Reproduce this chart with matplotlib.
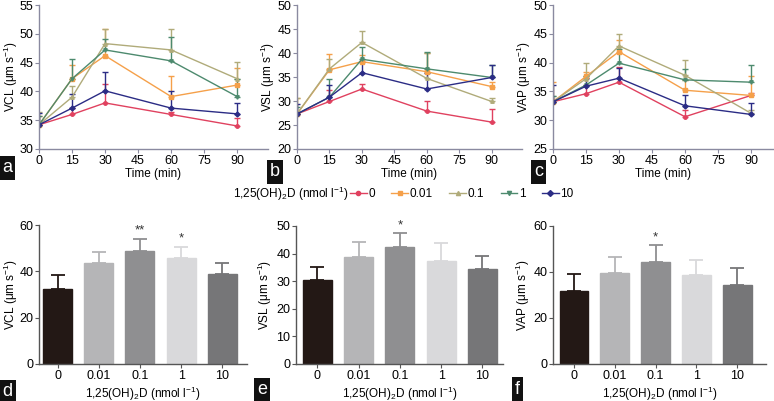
import numpy as np
import matplotlib
matplotlib.use("Agg")
import matplotlib.pyplot as plt

# ============================================================
# DATA
# ============================================================

TIME = [0, 15, 30, 60, 90]
DOSES = ["0", "0.01", "0.1", "1", "10"]

# time course means and upper error (SEM), one list per dose
VCL_MEAN = {
    "0":    [34.2, 36.0, 38.0, 36.0, 34.0],
    "0.01": [34.2, 42.2, 46.2, 39.1, 41.1],
    "0.1":  [34.2, 39.0, 48.3, 47.2, 42.2],
    "1":    [34.2, 42.2, 47.2, 45.3, 39.1],
    "10":   [34.2, 37.1, 40.1, 37.1, 36.1],
}
VCL_ERR = {
    "0":    [0.5, 1.2, 3.2, 0.5, 1.4],
    "0.01": [1.5, 2.4, 4.6, 3.6, 3.0],
    "0.1":  [2.3, 1.9, 2.5, 3.7, 2.9],
    "1":    [1.5, 3.5, 1.9, 4.1, 3.1],
    "10":   [2.0, 2.4, 3.3, 2.9, 1.8],
}

VSL_MEAN = {
    "0":    [27.3, 29.9, 32.5, 27.9, 25.6],
    "0.01": [27.3, 36.5, 38.2, 36.1, 33.0],
    "0.1":  [27.3, 36.7, 42.2, 34.7, 29.9],
    "1":    [27.3, 30.8, 38.7, 36.7, 34.9],
    "10":   [27.3, 30.8, 35.9, 32.5, 34.9],
}
VSL_ERR = {
    "0":    [0.5, 2.4, 1.0, 2.0, 2.7],
    "0.01": [3.4, 3.3, 1.4, 3.8, 1.0],
    "0.1":  [3.4, 2.0, 2.4, 5.4, 0.8],
    "1":    [1.5, 3.8, 2.6, 3.6, 2.5],
    "10":   [2.0, 2.5, 2.2, 3.4, 2.5],
}

VAP_MEAN = {
    "0":    [33.2, 34.6, 36.6, 30.6, 34.3],
    "0.01": [33.2, 37.6, 41.9, 35.2, 34.3],
    "0.1":  [33.2, 37.2, 42.9, 37.8, 31.2],
    "1":    [33.2, 36.1, 39.9, 37.0, 36.6],
    "10":   [33.2, 35.9, 37.3, 32.5, 31.0],
}
VAP_ERR = {
    "0":    [0.5, 1.5, 2.7, 1.2, 0.5],
    "0.01": [3.4, 0.7, 2.0, 1.8, 3.3],
    "0.1":  [1.0, 2.7, 2.1, 2.7, 0.5],
    "1":    [1.0, 1.5, 2.5, 1.9, 2.9],
    "10":   [2.9, 1.4, 1.8, 1.9, 1.9],
}

# bar panels (overall means)
BAR_VCL = [32.4, 43.7, 48.9, 45.6, 38.7]
BAR_VCL_ERR = [6.0, 4.8, 5.1, 5.0, 4.8]
BAR_VSL = [30.4, 38.6, 42.3, 37.4, 34.5]
BAR_VSL_ERR = [4.6, 5.6, 5.0, 6.3, 4.5]
BAR_VAP = [31.9, 39.7, 44.5, 38.6, 34.2]
BAR_VAP_ERR = [7.2, 6.8, 7.1, 6.8, 7.4]

STARS_VCL = ["", "", "**", "*", ""]
STARS_VSL = ["", "", "*", "", ""]
STARS_VAP = ["", "", "*", "", ""]

# ============================================================
# STYLE
# ============================================================

plt.rcParams["font.family"] = ["Liberation Sans", "DejaVu Sans"]
plt.rcParams["mathtext.default"] = "regular"
plt.rcParams["font.size"] = 9.5

LABEL_SIZE = 8.5
TICK_SIZE = 9

LINE_COLORS = {
    "0": "#e0415f",
    "0.01": "#f5a04a",
    "0.1": "#b0ab7a",
    "1": "#4d8a6e",
    "10": "#2b2c85",
}
MARKERS = {"0": "o", "0.01": "s", "0.1": "^", "1": "v", "10": "D"}
BAR_COLORS = ["#231815", "#b5b5b7", "#8f8f91", "#d9d9db", "#767678"]

TOP_SPINE = "#8a8aa0"
BOT_SPINE = "#555555"

UNIT = "(μm s$^{-1}$)"
DOSE_LABEL = "1,25(OH)$_2$D (nmol l$^{-1}$)"

W, H = 774, 401
fig = plt.figure(figsize=(W / 100, H / 100), dpi=100)


def px_axes(left, right, top, bottom):
    return fig.add_axes([left / W, (H - bottom) / H, (right - left) / W, (bottom - top) / H])


def style_axes(ax, color, ylab_px):
    ax.spines["top"].set_visible(False)
    ax.spines["right"].set_visible(False)
    for s in ("left", "bottom"):
        ax.spines[s].set_color(color)
        ax.spines[s].set_linewidth(1.0)
    ax.tick_params(direction="out", length=3, width=0.8, color=color,
                   labelsize=TICK_SIZE, pad=1)
    # place the y label centre a fixed number of pixels left of the axis
    width_px = ax.get_position().width * W
    ax.yaxis.set_label_coords(-ylab_px / width_px, 0.5)
    ax.yaxis.label.set_va("center")


def line_panel(ax, means, errs, ylim, name, xmax, ylab_px):
    for d in DOSES:
        m = np.array(means[d])
        e = np.array(errs[d])
        ax.errorbar(TIME, m, yerr=[np.zeros_like(e), e], color=LINE_COLORS[d],
                    marker=MARKERS[d], markersize=2.5, linewidth=1.0,
                    elinewidth=1.0, capsize=2, capthick=1.0)
    ax.set_xlim(0, xmax)
    ax.set_ylim(*ylim)
    ax.set_xticks([0, 15, 30, 45, 60, 75, 90])
    ax.set_yticks(np.arange(ylim[0], ylim[1] + 1, 5))
    ax.set_xlabel("Time (min)", labelpad=1, fontsize=LABEL_SIZE)
    ax.set_ylabel(f"{name} {UNIT}", fontsize=LABEL_SIZE)
    style_axes(ax, TOP_SPINE, ylab_px)


def bar_panel(ax, vals, errs, stars, ymax, step, name, xlim, ylab_px):
    x = np.arange(len(DOSES))
    ax.bar(x, vals, width=0.7, color=BAR_COLORS, edgecolor=BAR_COLORS, zorder=2)
    for i in range(len(x)):
        ax.errorbar(x[i], vals[i], yerr=[[0], [errs[i]]], color=BAR_COLORS[i],
                    elinewidth=1.3, capsize=5, capthick=1.3, zorder=1)
        if stars[i]:
            ax.text(x[i], vals[i] + errs[i] + ymax * 0.015, stars[i],
                    ha="center", va="bottom", fontsize=9.5, color="#333333")
    ax.set_xlim(*xlim)
    ax.set_ylim(0, ymax)
    ax.set_xticks(x)
    ax.set_xticklabels(DOSES)
    ax.set_yticks(np.arange(0, ymax + 1, step))
    ax.set_xlabel(DOSE_LABEL, labelpad=2, fontsize=LABEL_SIZE)
    ax.set_ylabel(f"{name} {UNIT}", fontsize=LABEL_SIZE)
    style_axes(ax, BOT_SPINE, ylab_px)


# ============================================================
# TOP ROW: time course
# ============================================================

ax_a = px_axes(39, 268, 5, 149)
line_panel(ax_a, VCL_MEAN, VCL_ERR, (30, 55), "VCL", 104, 28)

ax_b = px_axes(297, 522, 5, 149)
line_panel(ax_b, VSL_MEAN, VSL_ERR, (20, 50), "VSL", 104, 29)

ax_c = px_axes(553, 773, 5, 149)
line_panel(ax_c, VAP_MEAN, VAP_ERR, (25, 50), "VAP", 100, 29)

# ============================================================
# LEGEND ROW
# ============================================================

handles = [
    plt.Line2D([], [], color=LINE_COLORS[d], marker=MARKERS[d], markersize=3, linewidth=1.0)
    for d in DOSES
]
fig.text(233 / W, 1 - 194 / H, DOSE_LABEL, ha="left", va="center", fontsize=LABEL_SIZE)
fig.legend(handles, DOSES, loc="center left", bbox_to_anchor=(350 / W, 1 - 194 / H),
           ncol=5, frameon=False, fontsize=LABEL_SIZE, handlelength=1.4,
           handletextpad=0.15, columnspacing=1.4, borderaxespad=0, borderpad=0)

# ============================================================
# BOTTOM ROW: bars
# ============================================================

ax_d = px_axes(39, 247, 225, 364)
bar_panel(ax_d, BAR_VCL, BAR_VCL_ERR, STARS_VCL, 60, 20, "VCL", (-0.45, 4.6), 28)

ax_e = px_axes(296, 503, 226, 364)
bar_panel(ax_e, BAR_VSL, BAR_VSL_ERR, STARS_VSL, 50, 10, "VSL", (-0.52, 4.5), 31)

ax_f = px_axes(553, 766, 226, 364)
bar_panel(ax_f, BAR_VAP, BAR_VAP_ERR, STARS_VAP, 60, 20, "VAP", (-0.51, 4.7), 30)

# ============================================================
# PANEL LETTERS
# ============================================================

LETTERS = [("a", 2, 168), ("b", 270, 172), ("c", 534, 172),
           ("d", 2, 392), ("e", 257, 390), ("f", 515, 389)]
for letter, lx, ly in LETTERS:
    fig.text(lx / W, 1 - ly / H, letter, color="white", fontsize=13,
             ha="left", va="center",
             bbox=dict(facecolor="#111111", edgecolor="none", pad=2.5))

fig.savefig("out.png", dpi=100)
